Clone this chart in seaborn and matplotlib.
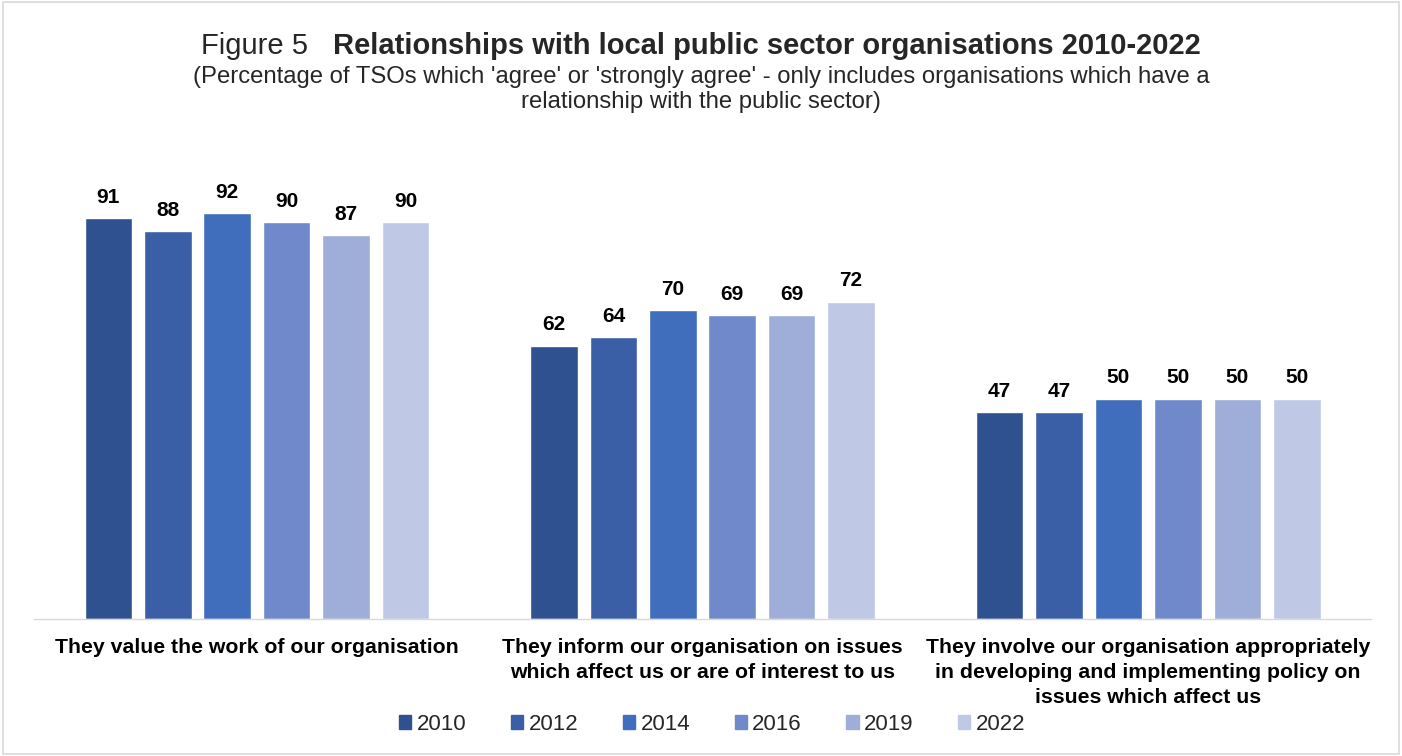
import matplotlib
matplotlib.use("Agg")
import matplotlib.pyplot as plt
import seaborn as sns
import pandas as pd
from matplotlib.patches import Rectangle

sns.set_theme(style="white")
plt.rcParams["font.family"] = ["Liberation Sans", "DejaVu Sans"]

categories = [
    "They value the work of our organisation",
    "They inform our organisation on issues\nwhich affect us or are of interest to us",
    "They involve our organisation appropriately\nin developing and implementing policy on\nissues which affect us",
]
years = ["2010", "2012", "2014", "2016", "2019", "2022"]
values = {
    "2010": [91, 62, 47],
    "2012": [88, 64, 47],
    "2014": [92, 70, 50],
    "2016": [90, 69, 50],
    "2019": [87, 69, 50],
    "2022": [90, 72, 50],
}
colors = ["#2F5190", "#3A5FA7", "#416DBD", "#6F89CA", "#9EAED8", "#BFC9E5"]

rows = []
for y in years:
    for c, v in zip(categories, values[y]):
        rows.append({"category": c, "year": y, "value": v})
df = pd.DataFrame(rows)

fig = plt.figure(figsize=(14.02, 7.56), dpi=100)
ax = fig.add_axes([0.0243, 0.1812, 0.9536, 0.5833])

sns.barplot(data=df, x="category", y="value", hue="year", hue_order=years,
            order=categories, palette=colors, width=0.8, gap=0.2,
            ax=ax, legend=False, saturation=1)

ax.set_ylim(0, 100)
ax.set_xlim(-0.5, 2.5)
ax.set_xlabel("")
ax.set_ylabel("")
ax.set_yticks([])
ax.set_xticks([])
for s in ["top", "left", "right"]:
    ax.spines[s].set_visible(False)
ax.spines["bottom"].set_color("#D9D9D9")
ax.spines["bottom"].set_linewidth(1.0)

for cont in ax.containers:
    ax.bar_label(cont, fmt="%d", padding=8, fontsize=15, fontweight="bold",
                 color="black")

# category labels beneath the baseline
for i, c in enumerate(categories):
    ax.text(i, -4.3, c, ha="center", va="top", fontsize=15.3,
            fontweight="bold", color="black", linespacing=1.4)

# legend row
handles = [Rectangle((0, 0), 1, 1, color=col) for col in colors]
fig.legend(handles, years, loc="center", bbox_to_anchor=(0.508, 0.042),
           ncol=6, frameon=False, fontsize=16, handlelength=0.55,
           handleheight=0.55, handletextpad=0.25, columnspacing=2.0)

# title: regular prefix followed by bold heading
fig.canvas.draw()
renderer = fig.canvas.get_renderer()
t1 = fig.text(0, 0.928, "Figure 5   ", fontsize=21, ha="left", va="baseline")
t2 = fig.text(0, 0.928, "Relationships with local public sector organisations 2010-2022",
              fontsize=21, fontweight="bold", ha="left", va="baseline")
w1 = t1.get_window_extent(renderer).width / fig.bbox.width
w2 = t2.get_window_extent(renderer).width / fig.bbox.width
x0 = 0.5 - (w1 + w2) / 2
t1.set_x(x0)
t2.set_x(x0 + w1)

fig.text(0.5, 0.913,
         "(Percentage of TSOs which 'agree' or 'strongly agree' - only includes organisations which have a\nrelationship with the public sector)",
         ha="center", va="top", fontsize=17.2, linespacing=1.2)

# light frame around the figure
fig.patches.append(Rectangle((0.002, 0.003), 0.996, 0.994, transform=fig.transFigure,
                             fill=False, edgecolor="#D9D9D9", linewidth=1.2))

fig.savefig("out.png", dpi=100, facecolor="white")
